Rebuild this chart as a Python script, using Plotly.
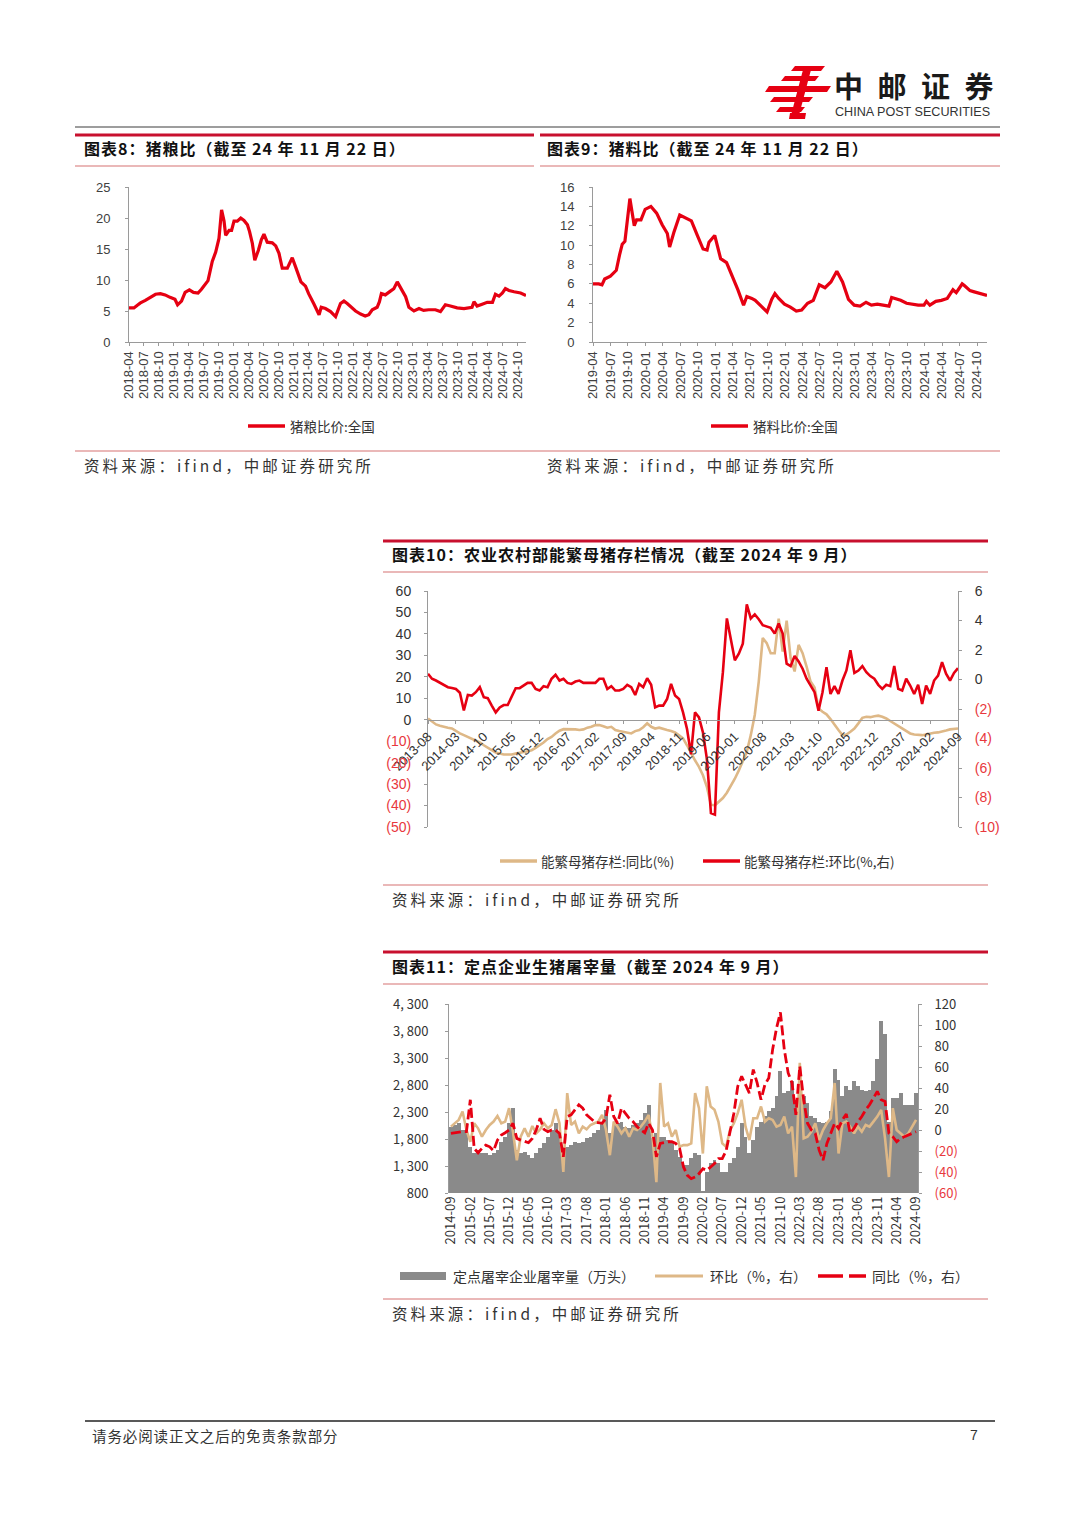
import plotly.graph_objects as go
import pandas as pd

W, H = 1080, 1527
def X(p): return p / W
def Y(p): return 1 - p / H

RED = '#e60012'
TAN = '#deb887'
GRAY = '#8a8a8a'
NEG = '#e8383d'

# ---------------- 图表8 猪粮比 ----------------
pg_dates = ["2018-04-01","2018-05-01","2018-05-20","2018-06-10","2018-07-10","2018-08-10","2018-09-10","2018-10-10","2018-11-08","2018-12-08",
            "2019-01-07","2019-01-23","2019-02-16","2019-03-10","2019-04-05","2019-04-30","2019-05-28","2019-06-18","2019-07-12","2019-07-28",
            "2019-08-23","2019-09-13","2019-10-03","2019-10-19","2019-11-03","2019-11-13","2019-12-04","2019-12-19","2020-01-03","2020-01-23",
            "2020-02-13","2020-03-04","2020-03-25","2020-04-07","2020-04-24","2020-05-09","2020-05-31","2020-06-18","2020-07-04","2020-07-24",
            "2020-08-24","2020-09-14","2020-10-04","2020-10-24","2020-11-24","2020-12-09","2020-12-24","2021-01-15","2021-02-15","2021-03-15",
            "2021-04-03","2021-05-04","2021-06-06","2021-06-19","2021-07-15","2021-08-15","2021-09-15","2021-10-15","2021-11-05","2021-11-25",
            "2021-12-15","2022-01-15","2022-02-15","2022-03-15","2022-04-06","2022-04-27","2022-05-27","2022-06-10","2022-06-22","2022-07-16",
            "2022-08-16","2022-09-06","2022-09-27","2022-10-17","2022-11-17","2022-12-07","2023-01-07","2023-02-07","2023-03-07","2023-04-07",
            "2023-05-18","2023-06-18","2023-07-18","2023-08-18","2023-09-28","2023-11-09","2023-12-09","2023-12-28","2024-01-09","2024-01-28",
            "2024-02-28","2024-03-30","2024-05-01","2024-05-19","2024-06-10","2024-07-01","2024-07-19","2024-08-10","2024-09-10","2024-10-01",
            "2024-10-20","2024-11-22"]
pg_vals = [5.5,5.5,5.9,6.3,6.7,7.2,7.7,7.8,7.6,7.2,
           6.9,6.0,6.6,8.0,8.4,8.0,7.9,8.5,9.3,9.9,
           13.0,14.5,16.7,21.3,19.5,17.2,18.0,18.0,19.5,19.5,
           20.0,19.6,18.9,17.8,15.9,13.2,14.8,16.5,17.4,16.1,
           16.0,15.5,14.3,11.9,11.9,12.7,13.6,12.0,9.7,9.0,
           7.8,6.2,4.4,5.6,5.4,4.9,4.1,6.2,6.6,6.2,
           5.7,5.0,4.5,4.2,4.4,5.2,5.6,6.5,7.8,7.6,
           8.2,8.6,9.7,8.8,7.3,5.6,5.0,5.4,5.1,5.2,
           5.2,4.9,6.0,5.8,5.5,5.4,5.6,5.6,6.5,5.8,
           6.1,6.4,6.4,7.7,7.4,7.9,8.6,8.3,8.1,8.0,
           7.9,7.5]
pg_ticks = pd.date_range("2018-04-01", "2024-10-01", freq="3MS")

# ---------------- 图表9 猪料比 ----------------
pf_dates = ["2019-04-01","2019-05-01","2019-05-18","2019-06-01","2019-07-01","2019-08-01","2019-08-18","2019-09-01","2019-09-15","2019-09-29",
            "2019-10-11","2019-11-03","2019-11-15","2019-12-08","2019-12-30","2020-01-29","2020-02-28","2020-03-28","2020-04-24","2020-05-06",
            "2020-05-28","2020-06-28","2020-07-28","2020-08-28","2020-09-28","2020-10-28","2020-11-18","2020-11-28","2020-12-28","2021-01-28",
            "2021-02-28","2021-03-28","2021-04-28","2021-05-28","2021-06-14","2021-07-10","2021-07-28","2021-08-28","2021-09-28","2021-10-22",
            "2021-11-08","2021-11-28","2021-12-28","2022-01-28","2022-02-28","2022-03-28","2022-04-28","2022-05-28","2022-06-28","2022-07-28",
            "2022-08-28","2022-09-28","2022-10-28","2022-11-28","2022-12-28","2023-01-28","2023-02-28","2023-03-28","2023-04-28","2023-05-28",
            "2023-06-28","2023-07-12","2023-07-28","2023-08-28","2023-09-28","2023-10-28","2023-11-28","2023-12-28","2024-01-10","2024-01-28",
            "2024-02-28","2024-03-28","2024-04-28","2024-05-28","2024-06-14","2024-06-28","2024-07-15","2024-07-28","2024-08-25","2024-09-12",
            "2024-09-28","2024-10-20","2024-11-22"]
pf_vals = [6.0,6.0,5.9,6.5,6.8,7.4,9.0,10.1,10.4,13.0,
           14.8,12.0,12.6,12.6,13.7,14.0,13.3,12.1,11.2,9.8,
           11.3,13.1,12.8,12.5,11.0,9.6,9.5,10.3,11.0,8.6,
           8.2,6.9,5.4,3.8,4.7,4.5,4.3,3.7,3.1,4.4,
           5.0,4.5,3.9,3.6,3.2,3.3,4.0,4.3,5.9,5.6,
           6.2,7.3,6.2,4.4,3.8,3.7,4.1,3.8,3.9,3.8,
           3.7,4.6,4.5,4.3,4.0,3.9,3.8,3.8,4.2,3.8,
           4.2,4.3,4.5,5.4,5.1,5.5,6.0,5.8,5.3,5.2,
           5.1,5.0,4.8]
pf_ticks = pd.date_range("2019-04-01", "2024-10-01", freq="3MS")

# ---------------- 图表10 能繁母猪存栏 ----------------
sow_months = pd.period_range("2013-08", "2024-09", freq="M").astype(str).tolist()
sow_yoy = [0.6,-0.9,-2.2,-2.8,-3.4,-3.7,-4.1,-5.3,-6.4,-7.2,
           -8.0,-8.7,-9.5,-10.6,-11.9,-12.9,-14.2,-15.3,-15.8,-16.2,
           -16.2,-16.2,-15.8,-15.3,-15.0,-14.7,-14.2,-13.1,-11.9,-10.6,
           -9.0,-8.0,-6.4,-5.1,-4.4,-4.4,-4.4,-4.5,-4.8,-4.5,
           -3.7,-3.3,-2.5,-2.5,-3.0,-3.7,-3.3,-4.8,-5.3,-5.6,
           -5.9,-6.4,-5.3,-4.8,-3.5,-1.7,-3.3,-4.1,-3.7,-4.4,
           -4.8,-5.3,-5.9,-7.2,-8.7,-11.9,-15.8,-18.9,-22.0,-25.9,
           -31.4,-39.6,-39.9,-38.4,-36.5,-34.0,-30.9,-27.5,-23.6,-19.7,
           -15.0,-7.2,2.2,17.8,38.1,35.7,31.0,31.0,47.1,31.8,
           46.2,28.7,22.5,34.9,31.0,24.8,17.8,15.0,5.3,3.7,
           2.5,0.3,-2.5,-4.8,-7.2,-6.9,-5.6,-4.1,-1.7,0.9,
           1.4,1.2,1.6,1.9,1.4,0.6,-0.6,-1.7,-2.8,-4.1,
           -5.3,-6.4,-6.9,-7.2,-7.2,-6.9,-6.4,-6.1,-5.9,-5.6,
           -5.0,-4.5,-4.2,-4.1]
sow_mom = [0.39,0.05,-0.07,-0.23,-0.41,-0.52,-0.57,-0.64,-0.9,-2.1,
           -1.05,-1.09,-0.86,-0.52,-1.2,-1.27,-1.77,-2.23,-1.89,-1.73,
           -1.73,-1.2,-0.59,-0.59,-0.41,-0.23,-0.23,-0.64,-0.75,-0.45,
           -0.52,0.05,0.32,-0.07,0.05,-0.23,-0.3,-0.14,-0.07,-0.23,
           -0.23,-0.23,-0.23,0.05,0.05,-0.64,-0.45,-0.75,-0.75,-0.64,
           -0.36,-0.52,-1.05,-0.3,-0.52,0.09,-0.36,-1.89,-1.77,-1.77,
           -1.32,-0.3,-1.09,-1.32,-2.23,-3.36,-5.07,-2.23,-2.57,-3.59,
           -5.41,-9.05,-9.16,-2.23,0.5,4.14,2.77,1.3,1.75,2.43,
           5.09,4.14,4.41,4.09,3.68,3.61,3.5,3.11,3.8,3.11,
           1.07,0.91,1.59,1.23,0.73,0.05,-0.41,-0.86,-2.11,-0.86,
           0.84,-0.98,-0.45,-0.98,-0.07,0.61,1.98,0.45,0.61,0.91,
           0.5,0.23,0.05,-0.36,-0.64,-0.36,-0.45,0.91,-0.64,-0.75,
           0.05,-0.41,-0.98,-0.36,-1.66,-0.41,-0.98,-0.07,0.27,1.18,
           0.39,-0.07,0.45,0.77]
sow_ticks = sow_months[::7]
sow_left_vals = list(range(-50, 61, 10))
sow_right_vals = list(range(-10, 7, 2))

# ---------------- 图表11 定点屠宰 ----------------
sl_months = pd.period_range("2014-09", "2024-09", freq="M").astype(str).tolist()
sl_vol = [2031,2062,2093,1969,2093,1658,1534,1596,1534,1546,
          1503,1534,1596,1751,1845,2100,2370,1596,1534,1565,
          1503,1440,1534,1627,1720,1845,1969,2093,1907,1658,
          1658,1689,1751,1720,1751,1813,1845,1907,1969,2093,
          2342,1907,2062,2093,2124,2031,2000,2062,2093,2155,
          2280,2435,1813,1907,1845,1845,1782,1720,1596,1471,
          1316,1316,1440,1534,1503,831,1192,1347,1409,1347,
          1192,1192,1347,1440,1658,2093,1845,1534,1782,2031,
          2124,2218,2311,2373,2590,3057,2652,2684,2870,2528,
          2715,2590,2466,2218,2186,2124,2093,2124,2311,3088,
          2901,2590,2777,2715,2870,2777,2715,2684,2715,2870,
          3275,3989,3740,2124,2559,2559,2652,2435,2435,2435,
          2652]
sl_mom = [3.2,6.4,9.6,17.6,0.0,-11.2,6.4,1.6,-6.4,0.0,
          4.8,8.0,13.4,6.4,8.0,20.8,-1.6,-28.8,-6.4,1.6,
          -6.4,3.8,-3.2,0.6,6.4,1.6,4.8,19.8,6.4,-40.0,
          35.2,4.8,8.0,-3.2,3.2,0.6,4.8,6.4,8.0,14.4,
          0.0,-24.0,8.0,3.2,-3.2,1.6,-6.4,1.6,0.0,3.2,
          8.0,14.4,-6.4,-49.6,44.8,3.2,6.4,-6.4,0.0,-16.0,
          -14.4,-14.4,-12.8,35.2,20.8,-22.4,41.6,22.4,19.2,8.0,
          -12.8,-16.0,0.0,6.4,16.0,28.8,3.2,-9.6,11.2,11.2,
          22.4,8.0,11.2,9.6,3.2,4.8,12.8,-3.2,3.2,-44.8,
          64.0,-8.0,-6.4,-1.6,6.4,-9.6,0.0,6.4,11.2,44.8,
          -22.4,6.4,8.0,3.2,-3.2,3.2,-1.6,4.8,3.2,8.0,
          12.8,19.2,-8.0,-44.8,20.8,0.0,-3.2,-6.4,-3.2,3.2,
          9.6]
sl_yoy = [-3.2,-2.6,-1.6,-1.6,-1.6,28.8,-17.6,-21.7,-17.6,-14.4,
          -16.0,-19.8,-9.6,-4.8,-2.6,0.0,6.4,-8.0,-9.6,-11.2,
          -12.1,-8.0,0.0,11.2,0.6,-1.6,0.0,0.0,-3.2,-25.6,
          12.8,14.4,19.2,24.0,20.8,14.4,11.2,8.0,7.0,6.4,
          11.2,33.6,12.8,6.4,20.8,16.0,11.2,8.0,3.2,0.0,
          -2.6,6.4,0.0,-25.6,-12.8,-12.1,-11.2,-11.2,-12.8,-17.6,
          -35.2,-43.2,-46.4,-44.8,-41.6,-36.8,-38.4,-35.2,-32.0,-27.2,
          -27.2,-19.8,-3.2,16.0,41.6,51.2,43.2,35.2,57.6,44.8,
          28.8,43.2,49.6,76.8,97.0,112.0,76.8,54.4,44.8,14.4,
          60.8,28.8,6.4,0.0,-3.2,-19.2,-28.8,-12.8,-3.2,6.4,
          1.6,9.6,15.3,-3.2,1.6,8.0,12.8,19.2,24.0,30.4,
          36.8,28.8,27.2,-3.2,-6.4,-11.2,-8.0,-6.4,-4.8,-3.2,
          -1.6]
sl_ticks = sl_months[::5]
sl_left_vals = list(range(800, 4301, 500))
sl_right_vals = list(range(-60, 121, 20))


def paren(v):
    if v < 0:
        return f'<span style="color:{NEG}">({abs(v)})</span>'
    return str(v)


def spaced(s, sp):
    return sp.join(list(s))


fig = go.Figure()
fig.add_trace(go.Scatter(x=pg_dates, y=pg_vals, mode='lines', line=dict(color=RED, width=3.2),
                         xaxis='x', yaxis='y', showlegend=False))
fig.add_trace(go.Scatter(x=pf_dates, y=pf_vals, mode='lines', line=dict(color=RED, width=3.2),
                         xaxis='x2', yaxis='y2', showlegend=False))
fig.add_trace(go.Scatter(x=sow_months, y=sow_yoy, mode='lines', line=dict(color=TAN, width=2.6),
                         xaxis='x3', yaxis='y3', showlegend=False))
fig.add_trace(go.Scatter(x=sow_months, y=sow_mom, mode='lines', line=dict(color=RED, width=2.6),
                         xaxis='x3', yaxis='y4', showlegend=False))
fig.add_trace(go.Bar(x=sl_months, y=sl_vol, marker=dict(color=GRAY, line=dict(width=0)),
                     xaxis='x4', yaxis='y5', showlegend=False))
fig.add_trace(go.Scatter(x=sl_months, y=sl_mom, mode='lines', line=dict(color=TAN, width=2.6),
                         xaxis='x4', yaxis='y6', showlegend=False))
fig.add_trace(go.Scatter(x=sl_months, y=sl_yoy, mode='lines', line=dict(color=RED, width=2.8, dash='10px,4px'),
                         xaxis='x4', yaxis='y6', showlegend=False))

AX = '#9a9a9a'
lat = dict(family='Liberation Sans, Arial', size=13, color='#404040')

common_x = dict(showline=True, linecolor=AX, linewidth=1, ticks='outside', ticklen=3, tickcolor=AX,
                showgrid=False, zeroline=False)
common_y = dict(showline=True, linecolor=AX, linewidth=1, ticks='outside', ticklen=3, tickcolor=AX,
                showgrid=False, zeroline=False)

fig.update_layout(
    width=W, height=H, margin=dict(l=0, r=0, t=0, b=0),
    paper_bgcolor='white', plot_bgcolor='rgba(0,0,0,0)', template='none',
    bargap=0, showlegend=False,
    xaxis=dict(**common_x, domain=[X(129), X(526)], anchor='y', type='date',
               range=['2018-04-01', '2024-11-22'], tickvals=pg_ticks, tickformat='%Y-%m',
               tickangle=-90, tickfont=lat),
    yaxis=dict(**common_y, domain=[Y(342), Y(187)], anchor='x', range=[0, 25], dtick=5,
               tickfont=lat, ticklabelstandoff=12),
    xaxis2=dict(**common_x, domain=[X(593), X(987)], anchor='y2', type='date',
                range=['2019-04-01', '2024-11-22'], tickvals=pf_ticks, tickformat='%Y-%m',
                tickangle=-90, tickfont=lat),
    yaxis2=dict(**common_y, domain=[Y(342), Y(187)], anchor='x2', range=[0, 16], dtick=2,
                tickfont=lat, ticklabelstandoff=12),
    xaxis3=dict(**common_x, domain=[X(428), X(958)], anchor='free', position=Y(720),
                type='category', categoryorder='array', categoryarray=sow_months,
                range=[0, len(sow_months) - 1], tickvals=sow_ticks, ticktext=sow_ticks,
                tickangle=-45, tickfont=dict(family='Liberation Sans, Arial', size=13, color='#333')),
    yaxis3=dict(**common_y, domain=[Y(827), Y(591)], anchor='x3', range=[-50, 60],
                tickvals=sow_left_vals, ticktext=[paren(v) for v in sow_left_vals],
                tickfont=dict(family='Liberation Sans, Arial', size=14, color='#333'), ticklabelstandoff=10),
    yaxis4=dict(**common_y, domain=[Y(827), Y(591)], anchor='x3', overlaying='y3', side='right',
                range=[-10, 6], tickvals=sow_right_vals, ticktext=[paren(v) for v in sow_right_vals],
                tickfont=dict(family='Liberation Sans, Arial', size=14, color='#333'), ticklabelstandoff=10),
    xaxis4=dict(domain=[X(449), X(918)], anchor='y5', type='category', categoryorder='array',
                categoryarray=sl_months, range=[-0.5, len(sl_months) - 0.5], tickvals=sl_ticks,
                ticktext=sl_ticks, tickangle=-90, showline=False, ticks='', showgrid=False, zeroline=False,
                tickfont=dict(family='Noto Sans CJK SC', size=13, color='#333')),
    yaxis5=dict(**common_y, domain=[Y(1193), Y(1004)], anchor='x4', range=[800, 4300],
                tickvals=sl_left_vals, ticktext=[f"{v:,}".replace(",", ", ") for v in sl_left_vals],
                tickfont=dict(family='Noto Sans CJK SC', size=13, color='#333'), ticklabelstandoff=14),
    yaxis6=dict(**common_y, domain=[Y(1193), Y(1004)], anchor='x4', overlaying='y5', side='right',
                range=[-60, 120], tickvals=sl_right_vals, ticktext=[paren(v) for v in sl_right_vals],
                tickfont=dict(family='Noto Sans CJK SC', size=13, color='#333'), ticklabelstandoff=10),
)

shapes = []
ann = []

def hline(x0, x1, y, color, width, dash='solid'):
    shapes.append(dict(type='line', xref='paper', yref='paper', x0=X(x0), x1=X(x1), y0=Y(y), y1=Y(y),
                       line=dict(color=color, width=width, dash=dash)))

def text(x, y, s, size=14, color='#222', family='Noto Sans CJK SC', anchor='left'):
    ann.append(dict(x=X(x), y=Y(y), xref='paper', yref='paper', text=s, showarrow=False,
                    xanchor=anchor, yanchor='middle', font=dict(size=size, color=color, family=family)))

def poly(pts, color):
    path = 'M ' + ' L '.join(f'{X(a)},{Y(b)}' for a, b in pts) + ' Z'
    shapes.append(dict(type='path', xref='paper', yref='paper', path=path, fillcolor=color,
                       line=dict(width=0)))

HAIR = '\u200a'
THIN = '\u2009'
SRC = spaced('资料来源：ifind，中邮证券研究所', THIN)

# ---- header / logo ----
LOGO = '#e60012'
for (x0, x1, y0, y1) in [(793, 823, 66, 71), (783, 817, 76, 81), (767, 829, 86, 92),
                         (772, 811, 97, 102), (778, 803, 107, 112)]:
    poly([(x0 + 2, y0), (x1 + 2, y0), (x1 - 2, y1), (x0 - 2, y1)], LOGO)
poly([(804, 66), (812, 66), (798, 119), (790, 119)], LOGO)
poly([(790, 113), (806, 113), (805, 119), (789, 119)], LOGO)
text(832, 85, '<b>中\u2002邮\u2002证\u2002券</b>', size=29, color='#1a1a1a')
text(833, 112, 'CHINA POST SECURITIES', size=12.6, color='#333', family='Liberation Sans, Arial')
hline(75, 1000, 127, '#9d9d9d', 2)

# ---- chart 8 / 9 frame ----
for (a, b) in [(75, 534), (540, 1000)]:
    hline(a, b, 135, '#c8102e', 3)
    hline(a, b, 166, '#e3a0a0', 1.5)
text(82, 148, '<b>' + spaced('图表8：猪粮比（截至 24 年 11 月 22 日）', HAIR) + '</b>', size=16, color='#111')
text(545, 148, '<b>' + spaced('图表9：猪料比（截至 24 年 11 月 22 日）', HAIR) + '</b>', size=16, color='#111')
hline(248, 285, 426, RED, 3.5)
text(288, 426, '猪粮比价:全国', size=13.5, color='#333')
hline(711, 748, 426, RED, 3.5)
text(751, 426, '猪料比价:全国', size=13.5, color='#333')
hline(75, 1000, 451, '#e3a0a0', 1.5)
text(82, 465, SRC, size=15.5, color='#333')
text(545, 465, SRC, size=15.5, color='#333')

# ---- chart 10 frame ----
hline(383, 988, 541, '#c8102e', 3)
text(390, 554, '<b>' + spaced('图表10：农业农村部能繁母猪存栏情况（截至 2024 年 9 月）', HAIR) + '</b>',
     size=16, color='#111')
hline(383, 988, 572, '#e3a0a0', 1.5)
hline(500, 537, 861, TAN, 3.5)
text(539, 861, '能繁母猪存栏:同比(%)', size=13.5, color='#333')
hline(703, 740, 861, RED, 3.5)
text(742, 861, '能繁母猪存栏:环比(%,右)', size=13.5, color='#333')
hline(383, 988, 885, '#e3a0a0', 1.5)
text(390, 899, SRC, size=15.5, color='#333')

# ---- chart 11 frame ----
hline(383, 988, 952, '#c8102e', 3)
text(390, 966, '<b>' + spaced('图表11：定点企业生猪屠宰量（截至 2024 年 9 月）', HAIR) + '</b>',
     size=16, color='#111')
hline(383, 988, 984, '#e3a0a0', 1.5)
shapes.append(dict(type='rect', xref='paper', yref='paper', x0=X(400), x1=X(446), y0=Y(1280), y1=Y(1272),
                   fillcolor=GRAY, line=dict(width=0)))
text(451, 1276, '定点屠宰企业屠宰量（万头）', size=14, color='#333')
hline(655, 703, 1276, TAN, 3)
text(708, 1276, '环比（%，右）', size=14, color='#333')
hline(818, 866, 1276, RED, 3.5, dash='25px,6px')
text(870, 1276, '同比（%，右）', size=14, color='#333')
hline(383, 988, 1299, '#e3a0a0', 1.5)
text(390, 1313, SRC, size=15.5, color='#333')

# ---- footer ----
hline(85, 995, 1421, '#222', 1.5)
text(90, 1435, spaced('请务必阅读正文之后的免责条款部分', HAIR), size=14.5, color='#333')
text(968, 1435, '7', size=14, color='#333', family='Liberation Sans, Arial')

fig.update_layout(shapes=shapes, annotations=ann)
fig.write_html("out.html", config={'displayModeBar': False},
               post_script="document.body.style.margin='0';document.body.style.padding='0';"
                           "document.body.style.overflow='hidden';")
